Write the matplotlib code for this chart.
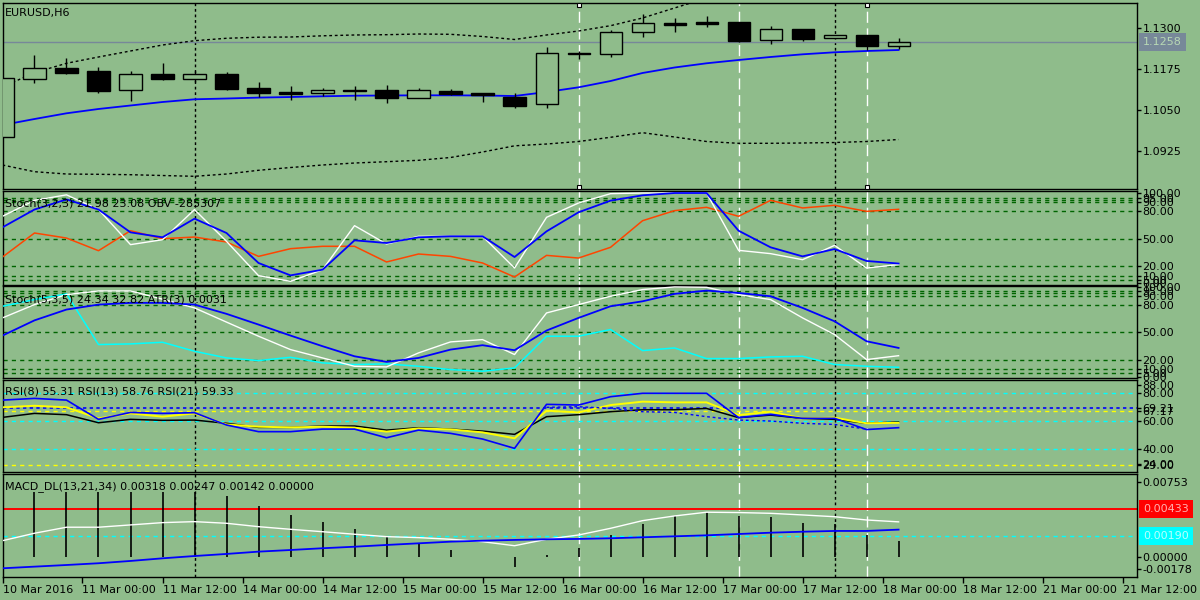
import matplotlib
matplotlib.use("Agg")
import matplotlib.pyplot as plt
import matplotlib.transforms as mtransforms
from matplotlib.patches import Rectangle

plt.rcParams['font.family'] = ['DejaVu Sans']
plt.rcParams['font.size'] = 8

BG = '#8fbc8b'

# EURUSD H6 candles
bar_open = [1.09679, 1.11438, 1.11775, 1.11692, 1.11101, 1.11600, 1.11456, 1.11600, 1.11162, 1.11048,
            1.11027, 1.11104, 1.11110, 1.10874, 1.11079, 1.11018, 1.10895, 1.10672, 1.12252, 1.12203,
            1.12877, 1.13153, 1.13193, 1.13184, 1.12632, 1.12969, 1.12694, 1.12795, 1.12467]
bar_high = [1.11539, 1.12182, 1.12081, 1.11814, 1.11692, 1.11937, 1.11692, 1.11670, 1.11355, 1.11223,
            1.11171, 1.11232, 1.11263, 1.11171, 1.11140, 1.11018, 1.11009, 1.12418, 1.12305, 1.12939,
            1.13429, 1.13306, 1.13377, 1.13193, 1.13070, 1.12969, 1.12786, 1.12795, 1.12703]
bar_low = [1.09578, 1.11333, 1.11615, 1.11027, 1.10782, 1.11425, 1.11355, 1.11119, 1.10895, 1.10794,
           1.10926, 1.10803, 1.10721, 1.10874, 1.10957, 1.10751, 1.10558, 1.10567, 1.12050, 1.12130,
           1.12743, 1.12896, 1.13049, 1.12571, 1.12528, 1.12620, 1.12694, 1.12335, 1.12366]
bar_close = [1.11468, 1.11775, 1.11640, 1.11088, 1.11591, 1.11456, 1.11600, 1.11150, 1.11009, 1.10996,
             1.11110, 1.11094, 1.10874, 1.11110, 1.10996, 1.10947, 1.10620, 1.12234, 1.12203, 1.12877,
             1.13153, 1.13110, 1.13141, 1.12620, 1.12969, 1.12681, 1.12786, 1.12467, 1.12580]

ma_mid = [1.10037, 1.10221, 1.10396, 1.10528, 1.10635, 1.10742, 1.10825, 1.10849, 1.10877, 1.10895,
          1.10917, 1.10935, 1.10941, 1.10947, 1.10947, 1.10941, 1.10926, 1.11048, 1.11192, 1.11385,
          1.11631, 1.11799, 1.11928, 1.12029, 1.12121, 1.12203, 1.12265, 1.12305, 1.12335]
band_up = [1.11202, 1.11640, 1.11928, 1.12121, 1.12305, 1.12488, 1.12620, 1.12694, 1.12727, 1.12733,
           1.12770, 1.12795, 1.12804, 1.12825, 1.12816, 1.12749, 1.12657, 1.12795, 1.12917, 1.13080,
           1.13316, 1.13622, 1.13928, 1.14112, 1.14204, 1.14235, 1.14250, 1.14235, 1.14219]
band_dn = [1.08812, 1.08607, 1.08536, 1.08527, 1.08515, 1.08490, 1.08466, 1.08536, 1.08650, 1.08735,
           1.08812, 1.08873, 1.08913, 1.08956, 1.09042, 1.09210, 1.09400, 1.09455, 1.09532, 1.09661,
           1.09802, 1.09670, 1.09532, 1.09477, 1.09477, 1.09486, 1.09501, 1.09532, 1.09593]
last_price = 1.1258
price_ticks = [1.1300, 1.1175, 1.1050, 1.0925]

# Stoch(3,2,3) + OBV
st1_main = [74.6, 92.0, 98.0, 82.0, 43.7, 49.1, 81.9, 47.3, 9.9, 3.7, 16.4, 64.4, 44.4, 52.8, 52.8,
            52.8, 18.2, 73.5, 89.1, 99.3, 100.0, 100.0, 100.0, 37.5, 33.9, 27.3, 42.9, 18.2, 21.98]
st1_sig = [62.6, 82.0, 93.0, 82.0, 57.1, 51.7, 72.0, 56.4, 23.7, 10.2, 16.4, 48.4, 45.5, 51.7, 52.8,
           52.8, 30.2, 58.2, 79.0, 91.7, 97.5, 100.0, 100.0, 58.9, 40.8, 30.9, 38.9, 25.9, 23.08]
st1_obv = [30.2, 56.4, 50.9, 37.1, 58.9, 50.2, 52.0, 46.6, 30.9, 39.3, 41.9, 41.9, 24.8, 33.5, 30.9,
           23.7, 8.4, 32.0, 29.1, 40.8, 69.8, 80.8, 84.4, 74.6, 92.0, 83.7, 86.6, 80.0, 82.2]

# Stoch(5,3,5) + ATR
st2_main = [65.6, 80.1, 91.0, 95.0, 95.0, 86.0, 76.5, 61.0, 45.6, 31.0, 21.9, 12.8, 12.1, 27.4, 39.4,
            41.9, 25.6, 71.0, 80.1, 89.2, 96.5, 99.4, 99.0, 91.0, 85.6, 65.6, 47.4, 20.1, 24.34]
st2_sig = [46.3, 62.9, 74.7, 80.1, 82.0, 82.0, 80.1, 70.0, 58.3, 46.3, 34.7, 23.7, 17.6, 21.9, 31.0,
           35.8, 30.3, 51.8, 65.6, 78.3, 83.7, 91.8, 95.4, 92.8, 89.2, 76.5, 61.9, 40.1, 32.82]
st2_atr = [78.3, 85.6, 91.8, 36.5, 37.2, 39.0, 29.2, 21.9, 19.0, 22.6, 16.5, 14.7, 15.4, 12.8, 9.2,
           7.4, 11.0, 45.6, 45.6, 52.9, 29.9, 32.8, 21.2, 21.2, 23.0, 23.7, 14.7, 12.8, 11.7]
st_levels = [95, 92.5, 90, 80, 50, 20, 10, 5]

# RSI
rsi8 = [74.8, 76.0, 74.8, 61.2, 66.1, 65.4, 65.9, 57.2, 52.5, 52.5, 54.3, 54.3, 48.2, 53.6, 51.3,
        47.3, 40.7, 71.8, 71.3, 77.2, 79.6, 79.6, 79.6, 62.4, 64.7, 61.9, 61.9, 54.0, 55.31]
rsi13 = [69.7, 70.8, 69.7, 61.9, 65.4, 63.1, 65.4, 57.6, 56.0, 55.5, 56.0, 55.3, 52.5, 54.8, 54.1,
         52.0, 47.8, 67.3, 66.1, 71.3, 73.7, 73.2, 73.2, 64.2, 66.6, 61.9, 62.4, 58.4, 58.76]
rsi21 = [62.6, 65.4, 64.5, 58.8, 61.2, 60.5, 60.7, 58.4, 55.5, 55.5, 56.5, 56.5, 53.6, 55.3, 54.3,
         52.9, 50.6, 63.1, 64.5, 66.6, 68.0, 68.0, 68.9, 62.4, 64.2, 61.9, 61.2, 58.4, 59.33]
rsi_ma_start = 17
rsi_ma = [69.7, 70.1, 69.0, 66.6, 66.1, 63.1, 60.7, 60.0, 58.4, 57.6, 54.3]
rsi_cyan_levels = [80, 60, 40]
rsi_blue_level = 69.21
rsi_yellow_levels = [67.17, 29.0]

# MACD_DL(13,21,34)
macd_hist = [0.00588, 0.00588, 0.00588, 0.00588, 0.00588, 0.00588, 0.00588, 0.00554, 0.00463, 0.00381,
             0.00320, 0.00253, 0.00177, 0.00122, 0.00061, 0.0, -0.00097, 0.00016, 0.00082, 0.00198,
             0.00299, 0.00372, 0.00411, 0.00372, 0.00360, 0.00311, 0.00299, 0.00198, 0.00142]
macd_line = [0.00146, 0.00214, 0.00269, 0.00269, 0.00290, 0.00311, 0.00320, 0.00305, 0.00274, 0.00250,
             0.00228, 0.00205, 0.00183, 0.00174, 0.00159, 0.00137, 0.00100, 0.00159, 0.00198, 0.00259,
             0.00329, 0.00372, 0.00406, 0.00403, 0.00396, 0.00381, 0.00365, 0.00335, 0.00318]
macd_signal = [-0.00106, -0.00091, -0.00076, -0.00060, -0.00039, -0.00015, 0.00006, 0.00025, 0.00046, 0.00061,
               0.00077, 0.00091, 0.00107, 0.00122, 0.00137, 0.00146, 0.00153, 0.00159, 0.00162, 0.00168,
               0.00177, 0.00186, 0.00195, 0.00207, 0.00219, 0.00228, 0.00235, 0.00235, 0.00247]
macd_red = 0.00433
macd_cyan = 0.00190

time_labels = ['10 Mar 2016', '11 Mar 00:00', '11 Mar 12:00', '14 Mar 00:00', '14 Mar 12:00',
               '15 Mar 00:00', '15 Mar 12:00', '16 Mar 00:00', '16 Mar 12:00', '17 Mar 00:00',
               '17 Mar 12:00', '18 Mar 00:00', '18 Mar 12:00', '21 Mar 00:00', '21 Mar 12:00']
black_vlines = [6, 26]
white_vlines = [18, 23, 27]

xs = list(range(len(bar_open)))

fig = plt.figure(figsize=(12, 6), dpi=100, facecolor=BG)


def panel(top, bottom):
    ax = fig.add_axes([3 / 1200, 1 - bottom / 600, 1134 / 1200, (bottom - top) / 600])
    ax.set_facecolor(BG)
    for s in ax.spines.values():
        s.set_color('black')
        s.set_linewidth(1)
    ax.set_xlim(0.016, 35.45)
    ax.yaxis.tick_right()
    ax.tick_params(axis='y', direction='out', length=3, width=1, pad=1, labelsize=8, colors='black')
    ax.tick_params(axis='x', bottom=False, labelbottom=False)
    for v in black_vlines:
        ax.axvline(v, color='black', lw=1, ls=(0, (2, 2)), zorder=1)
    for v in white_vlines:
        ax.axvline(v, color='white', lw=1, ls=(0, (8, 4)), zorder=1)
    return ax


def title(ax, text, dy):
    ax.annotate(text, xy=(0, 1), xycoords='axes fraction', xytext=(2, -dy),
                textcoords='offset pixels', ha='left', va='top', fontsize=8, zorder=10)


def box_label(ax, y, text, fc, tc):
    tr = mtransforms.offset_copy(mtransforms.blended_transform_factory(ax.transAxes, ax.transData),
                                 fig=fig, x=6, y=0, units='dots')
    ax.text(1.0, y, text, transform=tr, ha='left', va='center', fontsize=8, color=tc, clip_on=False,
            bbox=dict(boxstyle='square,pad=0.35', fc=fc, ec='none'))


# ---- price panel
ax0 = panel(3, 189)
ax0.set_ylim(1.08077, 1.13775)
ax0.axhline(last_price, color='#778899', lw=1, zorder=1)
ax0.plot(xs, band_up, color='black', lw=1, ls=(0, (2, 2)), zorder=2)
ax0.plot(xs, band_dn, color='black', lw=1, ls=(0, (2, 2)), zorder=2)
ax0.plot(xs, ma_mid, color='#0000ff', lw=1.3, zorder=2)
for i in xs:
    o, h, l, c = bar_open[i], bar_high[i], bar_low[i], bar_close[i]
    ax0.vlines(i, l, h, color='black', lw=1, zorder=3)
    body = max(abs(c - o), 0.00003)
    fc = BG if c >= o else 'black'
    ax0.add_patch(Rectangle((i - 0.345, min(o, c)), 0.69, body, fc=fc, ec='black', lw=1, zorder=4))
ax0.set_yticks(price_ticks)
ax0.set_yticklabels(['%.4f' % p for p in price_ticks])
box_label(ax0, last_price, '%.4f' % last_price, '#778899', '#b8d8b4')
sel = mtransforms.blended_transform_factory(ax0.transData, ax0.transAxes)
ax0.plot([18, 18, 27, 27], [0.988, 0.012, 0.988, 0.012], ls='none', marker='s', ms=3.5,
         mfc='white', mec='black', mew=0.8, transform=sel, clip_on=False, zorder=6)
title(ax0, 'EURUSD,H6', 5)

# ---- stochastic panels
for top, bottom, ylim, main, sig, extra, ecol, lab in [
        (191, 285, (-0.3, 102.2), st1_main, st1_sig, st1_obv, '#ff4500',
         'Stoch(3,2,3) 21.98 23.08 OBV -285307'),
        (286, 378, (0.0, 100.4), st2_main, st2_sig, st2_atr, '#00ffff',
         'Stoch(5,3,5) 24.34 32.82 ATR(3) 0.0031')]:
    ax = panel(top, bottom)
    ax.set_ylim(*ylim)
    for lv in st_levels:
        ax.axhline(lv, color='#006400', lw=1, ls=(0, (3, 3)), zorder=1)
    ax.plot(xs, extra, color=ecol, lw=1.1, zorder=3)
    ax.plot(xs, main, color='white', lw=1, zorder=3)
    ax.plot(xs, sig, color='#0000ff', lw=1.3, zorder=3)
    ax.set_yticks([99.5, 95, 90, 80, 50, 20, 10, 5, 1.5])
    ax.set_yticklabels(['100.00', '95.00', '90.00', '80.00', '50.00', '20.00', '10.00', '5.00', '0.00'])
    title(ax, lab, 8)

# ---- RSI panel
ax3 = panel(380, 472)
ax3.set_ylim(24.0, 89.0)
for lv in rsi_cyan_levels:
    ax3.axhline(lv, color='#00ffff', lw=1, ls=(0, (3, 3)), zorder=1)
ax3.axhline(rsi_blue_level, color='#0000ff', lw=1.2, ls=(0, (2, 2)), zorder=1)
for lv in rsi_yellow_levels:
    ax3.axhline(lv, color='#ffff00', lw=1, ls=(0, (3, 3)), zorder=1)
ax3.plot(xs, rsi21, color='black', lw=1.1, zorder=3)
ax3.plot(xs, rsi13, color='#ffff00', lw=1.4, zorder=3)
ax3.plot(range(rsi_ma_start, rsi_ma_start + len(rsi_ma)), rsi_ma, color='#0000ff', lw=1,
         ls=(0, (2, 2)), zorder=3)
ax3.plot(xs, rsi8, color='#0000ff', lw=1.2, zorder=3)
ax3.set_yticks([85.4, 80, 69.21, 67.17, 60, 40, 29.3, 29.0])
ax3.set_yticklabels(['88.00', '80.00', '69.21', '67.17', '60.00', '40.00', '24.00', '29.00'])
title(ax3, 'RSI(8) 55.31 RSI(13) 58.76 RSI(21) 59.33', 7)

# ---- MACD panel
ax4 = panel(474, 576.5)
ax4.set_ylim(-0.00181, 0.00755)
ax4.axhline(macd_red, color='#ff0000', lw=1.4, zorder=1)
ax4.axhline(macd_cyan, color='#00ffff', lw=1, ls=(0, (3, 3)), zorder=1)
ax4.vlines(xs, 0, macd_hist, color='black', lw=1.2, zorder=2)
ax4.plot(xs, macd_line, color='white', lw=1, zorder=3)
ax4.plot(xs, macd_signal, color='#0000ff', lw=1.3, zorder=3)
ax4.set_yticks([0.00685, 0.0, -0.00115])
ax4.set_yticklabels(['0.00753', '0.00000', '-0.00178'])
box_label(ax4, macd_red, '%.5f' % macd_red, '#ff0000', '#ffb0b0')
box_label(ax4, macd_cyan, '%.5f' % macd_cyan, '#00ffff', '#b8ffff')
title(ax4, 'MACD_DL(13,21,34) 0.00318 0.00247 0.00142 0.00000', 7)

xt = [0.03] + [2.5 * k for k in range(1, len(time_labels))]
ax4.set_xticks(xt)
ax4.set_xticklabels(time_labels, ha='left')
ax4.tick_params(axis='x', bottom=True, labelbottom=True, direction='out', length=4, width=1,
                pad=2, labelsize=8)

fig.savefig('out.png', dpi=100, facecolor=BG)
